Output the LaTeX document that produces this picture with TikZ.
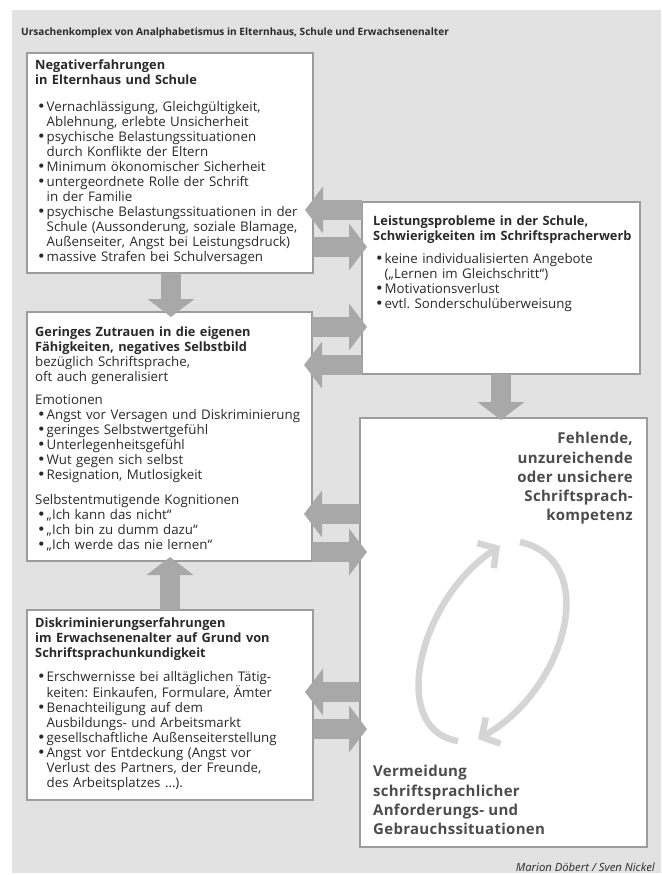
\documentclass[tikz,border=0pt]{standalone}
\usepackage{fontspec}
\setmainfont{Open Sans}
\newfontfamily\dejavu{DejaVu Sans}
\usetikzlibrary{arrows.meta,calc}
\definecolor{panel}{HTML}{E2E2E2}
\definecolor{boxline}{HTML}{9C9C9C}
\definecolor{arrowgray}{HTML}{A8A8A8}
\definecolor{cyclegray}{HTML}{D5D5D5}
\definecolor{txt}{HTML}{2A2A2A}
\definecolor{bigtxt}{HTML}{4C4C4C}
\frenchspacing
\newcommand\bi{\par\hangindent=11.5pt\hangafter=1\noindent\hbox to 11.5pt{\hskip 2pt{\fontsize{14.5}{15}\selectfont\dejavu\char"2022}\hfil}\ignorespaces}
\newcommand\hd[1]{{\bfseries\fontsize{12.8}{15}\selectfont #1}}
\begin{document}
\begin{tikzpicture}[x=1pt,y=-1pt,
  box/.style={draw=boxline,line width=1.2pt,fill=white,inner sep=0pt,outer sep=0pt,anchor=north west},
  txtnode/.style={anchor=north west,inner sep=0pt,text width=#1,font=\fontsize{13.3}{15}\selectfont\raggedright\frenchspacing,text=txt},
  fat/.style={draw=arrowgray,line width=20pt,-{Triangle[width=46pt,length=18pt]}},
  cyc/.style={draw=cyclegray,line width=6.5pt,-{Straight Barb[length=13pt,width=30pt]}},
  bigtext/.style={inner sep=0pt,font=\bfseries\fontsize{15}{19.3}\selectfont\addfontfeature{LetterSpace=2},text=bigtxt}]
\useasboundingbox (0,0) rectangle (661,875);
\fill[panel] (12,10) rectangle (661,873);

\node[anchor=base west,inner sep=0pt,font=\bfseries\fontsize{10.1}{12}\selectfont,text=txt] (title) at (21,36)
  {Ursachenkomplex von Analphabetismus in Elternhaus, Schule und Erwachsenenalter};

% boxes
\node[box,minimum width=286pt,minimum height=220pt] (b1) at (27,53) {};
\node[box,minimum width=278pt,minimum height=172pt] (b2) at (362,202) {};
\node[box,minimum width=285pt,minimum height=249pt] (b3) at (27,312) {};
\node[box,minimum width=286pt,minimum height=190pt] (b4) at (27,610) {};
\node[box,minimum width=287pt,minimum height=429pt] (b5) at (360,418) {};

% fat arrows
\draw[fat] (b1.south -| 171,0) -- ($(b3.north -| 171,0)+(0,5)$);
\draw[fat] (b4.north -| 170,0) -- ($(b3.south -| 170,0)+(0,-4)$);
\draw[fat] (b2.south -| 501,0) -- ($(b5.north -| 501,0)+(0,2)$);
\draw[fat] (b2.west |- 0,210) -- ($(b1.east |- 0,210)+(-8,0)$);
\draw[fat] (b1.east |- 0,247) -- ($(b2.west |- 0,247)+(5,0)$);
\draw[fat] (b3.east |- 0,327) -- ($(b2.west |- 0,327)+(5,0)$);
\draw[fat] (b2.west |- 0,365) -- ($(b3.east |- 0,365)+(-8,0)$);
\draw[fat] (b5.west |- 0,514) -- ($(b3.east |- 0,514)+(-8,0)$);
\draw[fat] (b3.east |- 0,552) -- ($(b5.west |- 0,552)+(7,0)$);
\draw[fat] (b5.west |- 0,692) -- ($(b4.east |- 0,692)+(-8,0)$);
\draw[fat] (b4.east |- 0,729) -- ($(b5.west |- 0,729)+(7,0)$);

% texts
\node[txtnode=290pt] (t1) at (35,58.5) {\strut\hd{Negativerfahrungen}\\\hd{in Elternhaus und Schule}\par\vspace{12pt}
\bi Vernachlässigung, Gleichgültigkeit,\newline Ablehnung, erlebte Unsicherheit
\bi psychische Belastungssituationen\newline durch Konflikte der Eltern
\bi Minimum ökonomischer Sicherheit
\bi untergeordnete Rolle der Schrift\newline in der Familie
\bi psychische Belastungssituationen in der\newline Schule (Aussonderung, soziale Blamage,\newline Außenseiter, Angst bei Leistungsdruck)
\bi massive Strafen bei Schulversagen\par};

\node[txtnode=275pt] (t2) at (373,214.5) {\strut\hd{Leistungsprobleme in der Schule,}\\\hd{Schwierigkeiten im Schriftspracherwerb}\par\vspace{8pt}
\bi keine individualisierten Angebote\newline („Lernen im Gleichschritt“)
\bi Motivationsverlust
\bi evtl.\ Sonderschulüberweisung\par};

\node[txtnode=290pt] (t3) at (35,325.5) {\strut\hd{Geringes Zutrauen in die eigenen}\\\hd{Fähigkeiten, negatives Selbstbild}\\bezüglich Schriftsprache,\\oft auch generalisiert\par\vspace{8pt}
\noindent Emotionen
\bi Angst vor Versagen und Diskriminierung
\bi geringes Selbstwertgefühl
\bi Unterlegenheitsgefühl
\bi Wut gegen sich selbst
\bi Resignation, Mutlosigkeit\par\vspace{10pt}
\noindent Selbstentmutigende Kognitionen
\bi „Ich kann das nicht“
\bi „Ich bin zu dumm dazu“
\bi „Ich werde das nie lernen“\par};

\node[txtnode=290pt] (t4) at (35,616.5) {\strut\hd{Diskriminierungserfahrungen}\\\hd{im Erwachsenenalter auf Grund von}\\\hd{Schriftsprachunkundigkeit}\par\vspace{9pt}
\bi Erschwernisse bei alltäglichen Tätig-\newline keiten: Einkaufen, Formulare, Ämter
\bi Benachteiligung auf dem\newline Ausbildungs- und Arbeitsmarkt
\bi gesellschaftliche Außenseiterstellung
\bi Angst vor Entdeckung (Angst vor\newline Verlust des Partners, der Freunde,\newline des Arbeitsplatzes …).\par};

\node[bigtext,anchor=north east,align=right] (t5a) at (633,430) {\strut Fehlende,\\unzureichende\\oder unsichere\\Schriftsprach-\\kompetenz};
\node[bigtext,anchor=north west,align=left] (t5b) at (373,763) {\strut Vermeidung\\schriftsprachlicher\\Anforderungs- und\\Gebrauchssituationen};

% cycle
\coordinate (c1) at (458,741);
\coordinate (c2) at (500,546);
\coordinate (c3) at (520,542);
\coordinate (c4) at (478,739);
\draw[cyc] (c1) .. controls (388,730) and (418,600) .. (c2);
\draw[cyc] (c3) .. controls (602,560) and (566,690) .. (c4);

\node[anchor=base east,inner sep=0pt,font=\itshape\fontsize{11.3}{13}\selectfont,text=txt] (credit) at (655,871.5) {Marion Döbert / Sven Nickel};
\end{tikzpicture}
\end{document}
